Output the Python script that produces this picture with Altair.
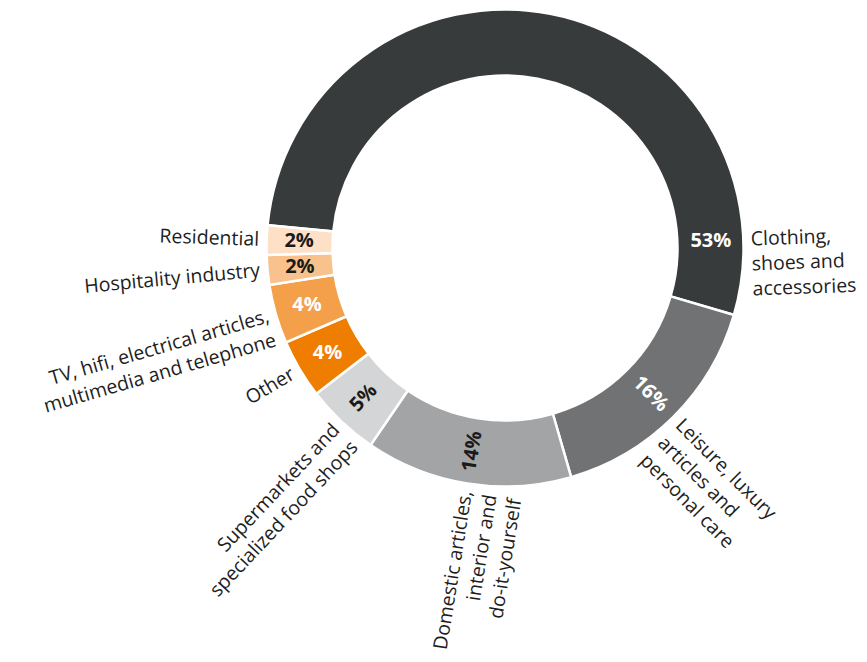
import math
import altair as alt
import pandas as pd

# ---- data ----
categories = [
    "Clothing, shoes and accessories",
    "Leisure, luxury articles and personal care",
    "Domestic articles, interior and do-it-yourself",
    "Supermarkets and specialized food shops",
    "Other",
    "TV, hifi, electrical articles, multimedia and telephone",
    "Hospitality industry",
    "Residential",
]
shares = [53, 16, 14, 5, 4, 4, 2, 2]
label_text = [
    "Clothing,\nshoes and\naccessories",
    "Leisure, luxury\narticles and\npersonal care",
    "Domestic articles,\ninterior and\ndo-it-yourself",
    "Supermarkets and\nspecialized food shops",
    "Other",
    "TV, hifi, electrical articles,\nmultimedia and telephone",
    "Hospitality industry",
    "Residential",
]

# ---- style ----
slice_colors = ["#383b3c", "#707274", "#a2a4a6", "#d4d5d6",
                "#ef7d00", "#f4a04a", "#f9c28d", "#fde0c5"]
pct_colors = ["#ffffff", "#ffffff", "#1a1a1a", "#1a1a1a",
              "#ffffff", "#ffffff", "#1a1a1a", "#1a1a1a"]
START_DEG = -84.5          # where the first slice begins (clockwise from 12 o'clock)
BIG_LABEL_DEG = 88         # the dominant slice gets its labels on the right-hand side
OUTER_R, INNER_R = 238.5, 172.5
PCT_R, LABEL_R = 206, 246
FONT = "Open Sans"
LABEL_SIZE = 19.5

df = pd.DataFrame({"idx": list(range(len(categories))), "category": categories,
                   "share": shares, "label": label_text})

start_rad = START_DEG * math.pi / 180
theta_scale = alt.Scale(domain=[0, 100], range=[start_rad, start_rad + 2 * math.pi])

base = (
    alt.Chart(df)
    .transform_window(cum="sum(share)", sort=[alt.SortField("idx")], frame=[None, 0])
    .transform_calculate(
        start="datum.cum - datum.share",
        mid="datum.cum - datum.share / 2",
        pct="datum.share + '%'",
    )
    .transform_calculate(
        lab=f"datum.share > 50 ? ({BIG_LABEL_DEG} - ({START_DEG})) / 3.6 : datum.mid"
    )
    .transform_calculate(deg=f"({START_DEG}) + datum.lab * 3.6")
    .transform_calculate(right="datum.deg > 0 && datum.deg < 180")
    .transform_calculate(rad_ang="datum.right ? datum.deg - 90 : datum.deg - 270")
    .transform_calculate(
        oang="(datum.rad_ang + 360) % 360",
        pang="(datum.deg > 120 && datum.deg < 230) ? (datum.rad_ang + 360) % 360 : 0",
    )
)

arcs = base.mark_arc(outerRadius=OUTER_R, innerRadius=INNER_R, stroke="white",
                     strokeWidth=2.5).encode(
    theta=alt.Theta("start:Q", scale=theta_scale, stack=False),
    theta2="cum:Q",
    color=alt.Color("category:N", scale=alt.Scale(domain=categories, range=slice_colors),
                    legend=None),
)

pct = base.mark_text(radius=PCT_R, font=FONT, fontSize=20, fontWeight="bold").encode(
    theta=alt.Theta("lab:Q", scale=theta_scale, stack=False),
    text="pct:N",
    angle=alt.Angle("pang:Q", scale=None),
    color=alt.Color("category:N", scale=alt.Scale(domain=categories, range=pct_colors),
                    legend=None),
)

right_labels = base.transform_filter("datum.right").mark_text(
    radius=LABEL_R, font=FONT, fontSize=LABEL_SIZE, lineHeight=25, lineBreak="\n",
    align="left", baseline="middle", color="#1e1e1e",
).encode(
    theta=alt.Theta("lab:Q", scale=theta_scale, stack=False),
    text="label:N",
    angle=alt.Angle("oang:Q", scale=None),
)

left_labels = base.transform_filter("!datum.right").mark_text(
    radius=LABEL_R, font=FONT, fontSize=LABEL_SIZE, lineHeight=25, lineBreak="\n",
    align="right", baseline="middle", color="#1e1e1e",
).encode(
    theta=alt.Theta("lab:Q", scale=theta_scale, stack=False),
    text="label:N",
    angle=alt.Angle("oang:Q", scale=None),
)

chart = (
    alt.layer(arcs, pct, right_labels, left_labels)
    .resolve_scale(color="independent")
    .properties(
        width=480, height=480,
        autosize=alt.AutoSizeParams(type="none"),
        padding={"left": 257, "top": 0, "right": 114, "bottom": 164},
    )
    .configure_view(stroke=None)
)

chart.save("out.html", embed_options={"renderer": "svg", "actions": False})
